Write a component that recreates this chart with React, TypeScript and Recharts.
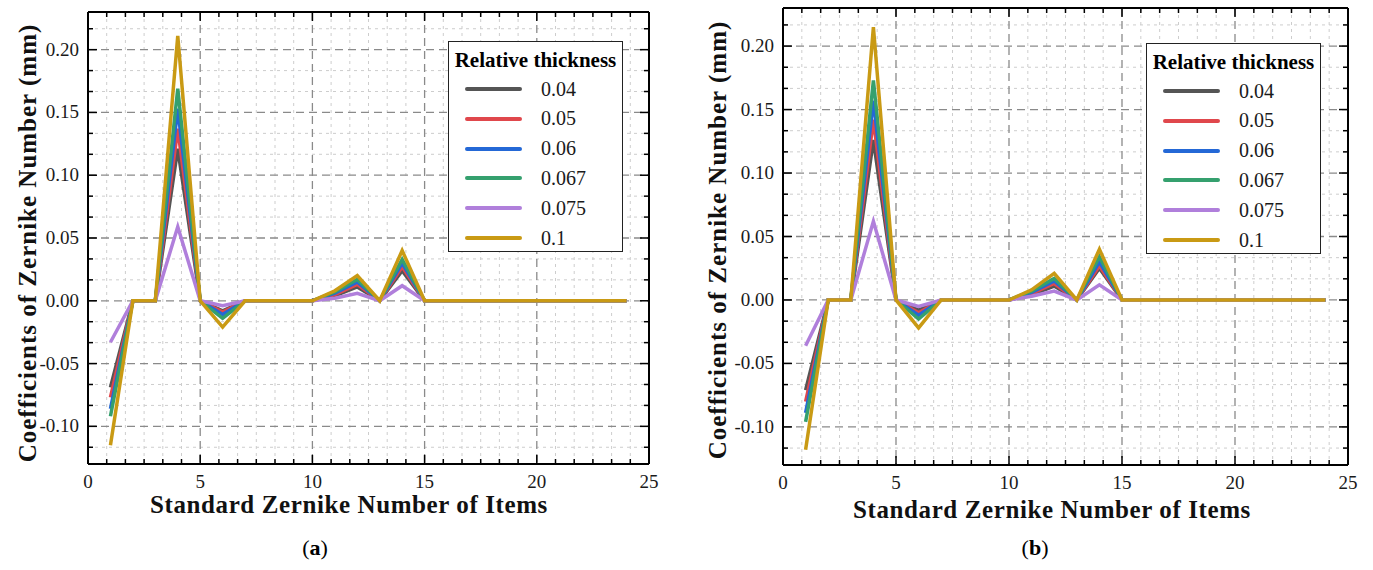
import { LineChart, Line, XAxis, YAxis, CartesianGrid } from 'recharts'

const ITEMS = [1, 2, 3, 4, 5, 6, 7, 8, 9, 10, 11, 12, 13, 14, 15, 16, 17, 18, 19, 20, 21, 22, 23, 24]
const THICKNESS = ['0.04', '0.05', '0.06', '0.067', '0.075', '0.1']
const COLORS = ['#555555', '#e0474c', '#2468d6', '#35a06e', '#b07fdb', '#c99a14']

// panel (a)
const A_004 = [-0.069, 0, 0, 0.121, 0, -0.008, 0, 0, 0, 0, 0.004, 0.011, 0, 0.024, 0, 0, 0, 0, 0, 0, 0, 0, 0, 0]
const A_005 = [-0.077, 0, 0, 0.137, 0, -0.009, 0, 0, 0, 0, 0.005, 0.013, 0, 0.027, 0, 0, 0, 0, 0, 0, 0, 0, 0, 0]
const A_006 = [-0.086, 0, 0, 0.153, 0, -0.011, 0, 0, 0, 0, 0.006, 0.015, 0, 0.03, 0, 0, 0, 0, 0, 0, 0, 0, 0, 0]
const A_0067 = [-0.092, 0, 0, 0.169, 0, -0.014, 0, 0, 0, 0, 0.007, 0.017, 0, 0.033, 0, 0, 0, 0, 0, 0, 0, 0, 0, 0]
const A_0075 = [-0.033, 0, 0, 0.059, 0, -0.004, 0, 0, 0, 0, 0.002, 0.006, 0, 0.012, 0, 0, 0, 0, 0, 0, 0, 0, 0, 0]
const A_01 = [-0.115, 0, 0, 0.211, 0, -0.021, 0, 0, 0, 0, 0.008, 0.02, 0, 0.04, 0, 0, 0, 0, 0, 0, 0, 0, 0, 0]

// panel (b)
const B_004 = [-0.071, 0, 0, 0.126, 0, -0.008, 0, 0, 0, 0, 0.004, 0.011, 0, 0.025, 0, 0, 0, 0, 0, 0, 0, 0, 0, 0]
const B_005 = [-0.08, 0, 0, 0.142, 0, -0.01, 0, 0, 0, 0, 0.005, 0.013, 0, 0.027, 0, 0, 0, 0, 0, 0, 0, 0, 0, 0]
const B_006 = [-0.089, 0, 0, 0.157, 0, -0.012, 0, 0, 0, 0, 0.006, 0.015, 0, 0.03, 0, 0, 0, 0, 0, 0, 0, 0, 0, 0]
const B_0067 = [-0.096, 0, 0, 0.173, 0, -0.015, 0, 0, 0, 0, 0.007, 0.017, 0, 0.034, 0, 0, 0, 0, 0, 0, 0, 0, 0, 0]
const B_0075 = [-0.036, 0, 0, 0.062, 0, -0.005, 0, 0, 0, 0, 0.003, 0.007, 0, 0.012, 0, 0, 0, 0, 0, 0, 0, 0, 0, 0]
const B_01 = [-0.118, 0, 0, 0.215, 0, -0.022, 0, 0, 0, 0, 0.008, 0.021, 0, 0.04, 0, 0, 0, 0, 0, 0, 0, 0, 0, 0]

const X_LABELS = [0, 5, 10, 15, 20, 25]
const Y_LABELS = [-0.1, -0.05, 0, 0.05, 0.1, 0.15, 0.2]
const X_DOMAIN: [number, number] = [0, 25]
const Y_DOMAIN: [number, number] = [-0.13, 0.23]
const X_SUBDIV = 6
const Y_SUBDIV = 3

const FONT = '"Liberation Serif", "Times New Roman", serif'
const KEYS = ['t1', 't2', 't3', 't4', 't5', 't6']

const buildRows = (series: number[][]) =>
  ITEMS.map((x, i) => {
    const row: Record<string, number> = { x }
    series.forEach((s, k) => (row[KEYS[k]] = s[i]))
    return row
  })

const dataA = buildRows([A_004, A_005, A_006, A_0067, A_0075, A_01])
const dataB = buildRows([B_004, B_005, B_006, B_0067, B_0075, B_01])

// minor ticks between the labelled ones
const subTicks = (labels: number[], subdiv: number, domain: [number, number]) => {
  const step = (labels[1] - labels[0]) / subdiv
  const out: number[] = []
  const k0 = Math.ceil((domain[0] - labels[0]) / step - 1e-9)
  const k1 = Math.floor((domain[1] - labels[0]) / step + 1e-9)
  for (let k = k0; k <= k1; k++) out.push(+(labels[0] + k * step).toFixed(6))
  return out
}

const X_TICKS = subTicks(X_LABELS, X_SUBDIV, X_DOMAIN)
const Y_TICKS = subTicks(Y_LABELS, Y_SUBDIV, Y_DOMAIN)
const isLabel = (v: number, list: number[]) => list.some((l) => Math.abs(l - v) < 1e-6)
const X_MINOR = X_TICKS.filter((v) => !isLabel(v, X_LABELS))
const Y_MINOR = Y_TICKS.filter((v) => !isLabel(v, Y_LABELS))

function Tick(props: any) {
  const { x, y, payload, side } = props
  const v = payload.value
  const major = side === 'bottom' || side === 'top' ? isLabel(v, X_LABELS) : isLabel(v, Y_LABELS)
  const len = major ? 9 : 5
  const st = { stroke: '#000', strokeWidth: 1.5 }
  if (side === 'bottom')
    return (
      <g>
        <line x1={x} x2={x} y1={y} y2={y - len} {...st} />
        {major && (
          <text x={x} y={y + 24} textAnchor="middle" fontSize={19} fontFamily={FONT} fill="#1a1a1a">
            {v}
          </text>
        )}
      </g>
    )
  if (side === 'top') return <line x1={x} x2={x} y1={y} y2={y + len} {...st} />
  if (side === 'right') return <line x1={x} x2={x - len} y1={y} y2={y} {...st} />
  return (
    <g>
      <line x1={x} x2={x + len} y1={y} y2={y} {...st} />
      {major && (
        <text x={x - 9} y={y + 6} textAnchor="end" fontSize={19} fontFamily={FONT} fill="#1a1a1a">
          {Math.abs(v) < 1e-9 ? '0.00' : v.toFixed(2)}
        </text>
      )}
    </g>
  )
}

const frame = { stroke: '#000', strokeWidth: 2 }

function Panel({
  data,
  left,
  top,
  width,
  height,
  margin,
}: {
  data: Record<string, number>[]
  left: number
  top: number
  width: number
  height: number
  margin: { top: number; right: number; bottom: number; left: number }
}) {
  return (
    <div style={{ position: 'absolute', left, top }}>
      <LineChart width={width} height={height} data={data} margin={margin}>
        <CartesianGrid
          horizontalValues={Y_MINOR}
          verticalValues={X_MINOR}
          stroke="#cdcdcd"
          strokeDasharray="3 4"
          strokeWidth={1}
        />
        <CartesianGrid
          horizontalValues={Y_LABELS}
          verticalValues={X_LABELS}
          stroke="#8a8a8a"
          strokeDasharray="8 5"
          strokeWidth={1.3}
        />
        <XAxis
          dataKey="x"
          type="number"
          domain={X_DOMAIN}
          ticks={X_TICKS}
          interval={0}
          height={30}
          tickSize={0}
          tickMargin={0}
          tickLine={false}
          axisLine={frame}
          tick={(p: any) => <Tick {...p} side="bottom" />}
        />
        <XAxis
          xAxisId="top"
          orientation="top"
          dataKey="x"
          type="number"
          domain={X_DOMAIN}
          ticks={X_TICKS}
          interval={0}
          height={1}
          tickSize={0}
          tickMargin={0}
          tickLine={false}
          axisLine={frame}
          tick={(p: any) => <Tick {...p} side="top" />}
        />
        <YAxis
          type="number"
          domain={Y_DOMAIN}
          allowDataOverflow
          ticks={Y_TICKS}
          interval={0}
          width={60}
          tickSize={0}
          tickMargin={0}
          tickLine={false}
          axisLine={frame}
          tick={(p: any) => <Tick {...p} side="left" />}
        />
        <YAxis
          yAxisId="right"
          orientation="right"
          type="number"
          domain={Y_DOMAIN}
          allowDataOverflow
          ticks={Y_TICKS}
          interval={0}
          width={1}
          tickSize={0}
          tickMargin={0}
          tickLine={false}
          axisLine={frame}
          tick={(p: any) => <Tick {...p} side="right" />}
        />
        {KEYS.map((k, i) => (
          <Line
            key={k}
            dataKey={k}
            name={THICKNESS[i]}
            type="linear"
            stroke={COLORS[i]}
            strokeWidth={3.5}
            dot={false}
            isAnimationActive={false}
          />
        ))}
      </LineChart>
    </div>
  )
}

function LegendBox({ left, top }: { left: number; top: number }) {
  return (
    <div
      style={{
        position: 'absolute',
        left,
        top,
        width: 175,
        height: 211,
        boxSizing: 'border-box',
        border: '1.5px solid #222',
        background: '#fff',
        fontFamily: FONT,
      }}
    >
      <div style={{ fontWeight: 'bold', fontSize: 21, textAlign: 'center', marginTop: 6, lineHeight: '24px' }}>
        Relative thickness
      </div>
      {THICKNESS.map((t, i) => (
        <div key={t} style={{ position: 'absolute', left: 0, top: 47 + i * 29.8 - 12, height: 24, display: 'flex', alignItems: 'center' }}>
          <span style={{ display: 'inline-block', marginLeft: 16, width: 57, height: 4, background: COLORS[i], borderRadius: 2 }} />
          <span style={{ marginLeft: 19, fontSize: 20, color: '#1a1a1a' }}>{t}</span>
        </div>
      ))}
    </div>
  )
}

const Title = ({ x, y, rotate, children }: { x: number; y: number; rotate?: boolean; children: any }) => (
  <div
    style={{
      position: 'absolute',
      left: x,
      top: y,
      transform: `translate(-50%, -50%)${rotate ? ' rotate(-90deg)' : ''}`,
      whiteSpace: 'nowrap',
      fontFamily: FONT,
      fontWeight: 'bold',
      fontSize: 25,
      letterSpacing: rotate ? 1 : 0.6,
      color: '#111',
    }}
  >
    {children}
  </div>
)

export default function App() {
  return (
    <div style={{ position: 'absolute', left: 0, top: 0, width: 1373, height: 570, background: '#fff', overflow: 'hidden' }}>
      <Panel data={dataA} left={0} top={0} width={700} height={500} margin={{ top: 11, right: 50, bottom: 6, left: 28 }} />
      <Panel data={dataB} left={695} top={0} width={680} height={500} margin={{ top: 7, right: 26, bottom: 5, left: 28 }} />

      <LegendBox left={448} top={41} />
      <LegendBox left={1146} top={43} />

      <Title x={28} y={243} rotate>Coefficients of Zernike Number (mm)</Title>
      <Title x={718} y={240} rotate>Coefficients of Zernike Number (mm)</Title>
      <Title x={349} y={505}>Standard Zernike Number of Items</Title>
      <Title x={1052} y={510}>Standard Zernike Number of Items</Title>

      <div style={{ position: 'absolute', left: 315, top: 548, transform: 'translate(-50%, -50%)', fontFamily: FONT, fontSize: 22 }}>
        (<b>a</b>)
      </div>
      <div style={{ position: 'absolute', left: 1035, top: 548, transform: 'translate(-50%, -50%)', fontFamily: FONT, fontSize: 22 }}>
        (<b>b</b>)
      </div>
    </div>
  )
}
